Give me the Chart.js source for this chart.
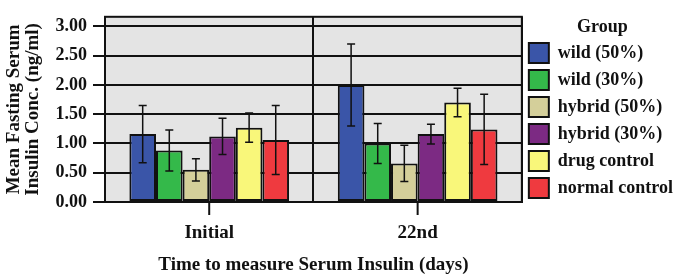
<!DOCTYPE html>
<html>
<head>
<meta charset="utf-8">
<script src="https://cdn.jsdelivr.net/npm/chart.js@4/dist/chart.umd.min.js"></script>
<style>
  html, body { margin: 0; padding: 0; background: #ffffff; }
  #wrap { width: 683px; height: 280px; }
</style>
</head>
<body>
<div id="wrap"><canvas id="c" width="683" height="280"></canvas></div>
<script>
// ---- data ----
const categories = ['Initial', '22nd'];
const groupNames = ['wild (50%)', 'wild (30%)', 'hybrid (50%)', 'hybrid (30%)', 'drug control', 'normal control'];
const wild50 = [1.16, 2.00];
const wild30 = [0.88, 1.00];
const hybrid50 = [0.55, 0.66];
const hybrid30 = [1.12, 1.16];
const drugControl = [1.27, 1.70];
const normalControl = [1.06, 1.24];
const wild50Err = [0.49, 0.70];
const wild30Err = [0.35, 0.34];
const hybrid50Err = [0.19, 0.31];
const hybrid30Err = [0.31, 0.17];
const drugControlErr = [0.25, 0.245];
const normalControlErr = [0.59, 0.60];
const yTickValues = [0, 0.5, 1.0, 1.5, 2.0, 2.5, 3.0];

const seriesValues = [wild50, wild30, hybrid50, hybrid30, drugControl, normalControl];
const seriesErrors = [wild50Err, wild30Err, hybrid50Err, hybrid30Err, drugControlErr, normalControlErr];
const colors = ['#3a55a8', '#34b94a', '#d4cf9a', '#7c2a83', '#f9f77a', '#ef3a3f'];

const FONT = "'Liberation Serif', 'Times New Roman', serif";

const datasets = groupNames.map((name, i) => ({
  label: name,
  data: seriesValues[i],
  errors: seriesErrors[i],
  backgroundColor: colors[i],
  borderColor: '#111111',
  borderWidth: 2,
  borderSkipped: false,
  barPercentage: 1.0,
  categoryPercentage: 0.766
}));

const bgPlugin = {
  id: 'plotBg',
  beforeDraw(chart) {
    const {ctx, chartArea: a} = chart;
    ctx.save();
    ctx.fillStyle = '#e4e4e4';
    ctx.fillRect(a.left, a.top, a.right - a.left, a.bottom - a.top);
    ctx.restore();
  },
  afterDraw(chart) {
    const {ctx, chartArea: a} = chart;
    ctx.save();
    ctx.strokeStyle = '#111111';
    ctx.lineWidth = 2;
    ctx.strokeRect(a.left, a.top, a.right - a.left, a.bottom - a.top);
    // category tick marks at centers
    const xs = chart.scales.x;
    categories.forEach((c, i) => {
      const px = xs.getPixelForTick(i);
      ctx.beginPath();
      ctx.moveTo(px, a.bottom);
      ctx.lineTo(px, a.bottom + 13);
      ctx.stroke();
    });
    ctx.restore();
  }
};

const errPlugin = {
  id: 'errBars',
  afterDatasetsDraw(chart) {
    const {ctx} = chart;
    const ys = chart.scales.y;
    ctx.save();
    ctx.strokeStyle = '#111111';
    ctx.lineWidth = 1.5;
    chart.data.datasets.forEach((ds, di) => {
      const meta = chart.getDatasetMeta(di);
      meta.data.forEach((el, j) => {
        const v = ds.data[j], e = ds.errors[j];
        const yt = ys.getPixelForValue(v + e);
        const yb = ys.getPixelForValue(v - e);
        const x = el.x;
        ctx.beginPath();
        ctx.moveTo(x, yt); ctx.lineTo(x, yb);
        ctx.moveTo(x - 4, yt); ctx.lineTo(x + 4, yt);
        ctx.moveTo(x - 4, yb); ctx.lineTo(x + 4, yb);
        ctx.stroke();
      });
    });
    ctx.restore();
  }
};

new Chart(document.getElementById('c'), {
  type: 'bar',
  data: { labels: categories, datasets },
  plugins: [bgPlugin, errPlugin],
  options: {
    responsive: false,
    animation: false,
    devicePixelRatio: 1,
    layout: { padding: { top: 10, right: 0, bottom: 0, left: 0 } },
    plugins: {
      tooltip: { enabled: false },
      title: { display: false },
      legend: {
        display: true,
        position: 'right',
        align: 'start',
        labels: {
          boxWidth: 20,
          boxHeight: 20,
          padding: 7,
          color: '#111111',
          font: { family: FONT, size: 18, weight: 'bold' }
        },
        title: {
          display: true,
          text: 'Group',
          color: '#111111',
          padding: { top: 8, bottom: 0 },
          font: { family: FONT, size: 18, weight: 'bold', lineHeight: 1.0 }
        }
      }
    },
    scales: {
      x: {
        afterFit(scale) { scale.height = 78; },
        grid: { display: true, offset: true, color: '#111111', lineWidth: 2, drawTicks: false },
        border: { display: true, color: '#111111', width: 2 },
        ticks: { color: '#111111', padding: 20, font: { family: FONT, size: 19, weight: 'bold' } },
        title: {
          display: true,
          text: 'Time to measure Serum Insulin (days)',
          color: '#111111',
          padding: { top: 0, bottom: 4 },
          font: { family: FONT, size: 19, weight: 'bold' }
        }
      },
      y: {
        min: 0,
        max: 3.165,
        afterFit(scale) { scale.width = 105; },
        afterBuildTicks(scale) { scale.ticks = yTickValues.map(v => ({ value: v })); },
        grid: { color: '#111111', lineWidth: 2, drawTicks: true, tickLength: 12 },
        border: { display: true, color: '#111111', width: 2 },
        ticks: {
          color: '#111111',
          padding: 6,
          font: { family: FONT, size: 18, weight: 'bold' },
          callback: (v) => Number(v).toFixed(2)
        },
        title: {
          display: true,
          text: ['Mean Fasting Serum', 'Insulin Conc. (ng/ml)'],
          color: '#111111',
          padding: { top: 5, bottom: 0 },
          font: { family: FONT, size: 19, weight: 'bold', lineHeight: 1.0 }
        }
      }
    }
  }
});
</script>
</body>
</html>
